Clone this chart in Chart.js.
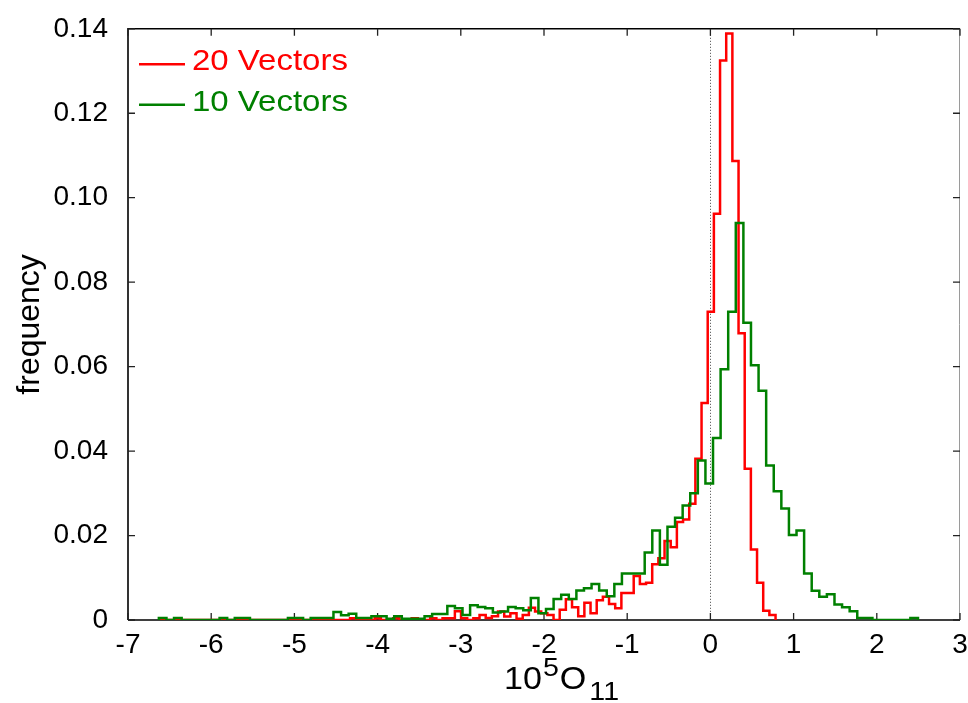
<!DOCTYPE html>
<html>
<head>
<meta charset="utf-8">
<script src="https://cdn.jsdelivr.net/npm/chart.js@4.4.0/dist/chart.umd.min.js"></script>
<style>
html,body{margin:0;padding:0;background:#fff;}
#wrap{position:relative;width:968px;height:703px;}
</style>
</head>
<body>
<div id="wrap"><canvas id="c" width="968" height="703"></canvas></div>
<script>
// ---- data ----
const seriesLabels = ['20 Vectors', '10 Vectors'];
const binStart = -6.629;          // left edge of first bin (both histograms)
const redBinWidth = 0.07412;      // 20 Vectors bin width
const greenBinWidth = 0.09124;    // 10 Vectors bin width
const red20 = [
  0,0,0,0,0,0,0,0,0,0,
  0,0,0,0,0,0,0,0,0,0,
  0,0,0,0,0,0,0,0,0,0,
  0,0.0004,0,0,0,0.0004,0,0,0.0004,0,
  0,0.0004,0,0,0.0004,0,0.0004,0.0004,0.0021,0.0004,
  0,0.0004,0.0012,0.0005,0.0009,0.0020,0.0008,0.0016,0.0003,0.0012,
  0.0029,0.0020,0.0016,0.0012,0,0.0024,0.0049,0.0030,0.0009,0.0041,
  0.0016,0.0047,0.0055,0.0038,0.0028,0.0064,0.0064,0.0104,0.0085,0.0088,
  0.0132,0.0146,0.0187,0.0172,0.0232,0.0238,0.0275,0.0382,0.0514,0.0730,
  0.0962,0.1325,0.1389,0.1087,0.0679,0.0358,0.0167,0.0088,0.0022,0.0012
];
const green10 = [
  0.0005,0,0.0005,0,0,0,0,0,0.0005,0,
  0.0005,0.0005,0,0,0,0,0,0.0005,0.0005,0,
  0.0005,0.0005,0.0005,0.0019,0.0011,0.0015,0.0005,0.0005,0.0009,0.0009,
  0.0003,0.0009,0.0003,0.0003,0.0003,0.0009,0.0014,0.0014,0.0033,0.0028,
  0.0012,0.0035,0.0031,0.0028,0.0018,0.0020,0.0031,0.0028,0.0023,0.0052,
  0.0016,0.0026,0.0050,0.0060,0.0050,0.0070,0.0075,0.0085,0.0070,0.0056,
  0.0085,0.0110,0.0110,0.0110,0.0160,0.0212,0.0131,0.0221,0.0242,0.0271,
  0.0300,0.0378,0.0323,0.0431,0.0594,0.0730,0.0940,0.0704,0.0603,0.0543,
  0.0366,0.0305,0.0264,0.0201,0.0212,0.0110,0.0069,0.0055,0.0061,0.0037,
  0.0030,0.0021,0.0005,0.0005,0,0,0,0,0,0.0005
];
const xTicks = [-7,-6,-5,-4,-3,-2,-1,0,1,2,3];
const yTicks = [0,0.02,0.04,0.06,0.08,0.10,0.12,0.14];
const yTickLabels = ['0','0.02','0.04','0.06','0.08','0.10','0.12','0.14'];

// ---- build step outlines from bin heights ----
function stepOutline(start, width, heights) {
  const pts = [{x: start, y: 0}];
  heights.forEach((h, i) => pts.push({x: start + i * width, y: h}));
  pts.push({x: start + heights.length * width, y: 0});
  return pts;
}

const FONT = "'Liberation Sans', Arial, Helvetica, sans-serif";
const RED = '#ff0000', GREEN = '#008000';
const STRETCH = 1.1;

function wideText(ctx, text, x, y) {
  ctx.save();
  ctx.translate(x, y);
  ctx.scale(STRETCH, 1);
  ctx.fillText(text, 0, 0);
  ctx.restore();
  return ctx.measureText(text).width * STRETCH;
}

const framePlugin = {
  id: 'frame',
  beforeDatasetsDraw(chart) {
    const {ctx, chartArea: a, scales: {x, y}} = chart;
    ctx.save();
    const x0 = Math.round(x.getPixelForValue(0)) + 0.5;
    ctx.strokeStyle = '#444';
    ctx.lineWidth = 1;
    ctx.setLineDash([1, 2]);
    ctx.beginPath(); ctx.moveTo(x0, a.top); ctx.lineTo(x0, a.bottom); ctx.stroke();
    ctx.setLineDash([]);
    ctx.strokeStyle = '#000';
    ctx.lineWidth = 1.6;
    ctx.beginPath();
    ctx.moveTo(a.left, a.bottom); ctx.lineTo(a.left, a.top); ctx.lineTo(a.right, a.top);
    ctx.moveTo(a.left, a.bottom); ctx.lineTo(a.right, a.bottom);
    ctx.stroke();
    ctx.strokeStyle = '#9a9a9a';
    ctx.lineWidth = 1;
    ctx.beginPath(); ctx.moveTo(a.right - 0.5, a.top); ctx.lineTo(a.right - 0.5, a.bottom); ctx.stroke();
    ctx.strokeStyle = '#222';
    ctx.lineWidth = 1.3;
    ctx.beginPath();
    xTicks.forEach(v => {
      const px = x.getPixelForValue(v);
      ctx.moveTo(px, a.bottom); ctx.lineTo(px, a.bottom - 7);
      ctx.moveTo(px, a.top); ctx.lineTo(px, a.top + 7);
    });
    yTicks.forEach(v => {
      const py = y.getPixelForValue(v);
      ctx.moveTo(a.left, py); ctx.lineTo(a.left + 7, py);
      ctx.moveTo(a.right, py); ctx.lineTo(a.right - 7, py);
    });
    ctx.stroke();
    ctx.restore();
  },
  afterDraw(chart) {
    const {ctx, chartArea: a} = chart;
    ctx.save();
    const ds = chart.data.datasets;
    const rows = [{line: 35.5, base: 41.5}, {line: 76, base: 82}];
    ds.forEach((d, i) => {
      const r = rows[i];
      ctx.strokeStyle = d.borderColor;
      ctx.lineWidth = 2.5;
      ctx.beginPath(); ctx.moveTo(a.left + 11, a.top + r.line); ctx.lineTo(a.left + 57, a.top + r.line); ctx.stroke();
      ctx.fillStyle = d.borderColor;
      ctx.font = '30px ' + FONT;
      ctx.textAlign = 'left';
      ctx.textBaseline = 'alphabetic';
      wideText(ctx, d.label, a.left + 64, a.top + r.base);
    });
    // x-axis title 10^5 O_11
    ctx.fillStyle = '#000';
    ctx.textAlign = 'left';
    ctx.textBaseline = 'alphabetic';
    let cx = 504;
    const base = 689;
    ctx.font = '31px ' + FONT;
    cx += wideText(ctx, '10', cx, base) + 1;
    ctx.font = '26px ' + FONT;
    cx += wideText(ctx, '5', cx, base - 13) + 1;
    ctx.font = '31px ' + FONT;
    cx += wideText(ctx, 'O', cx, base) + 3;
    ctx.font = '26px ' + FONT;
    wideText(ctx, '11', cx, base + 11);
    ctx.restore();
  }
};

new Chart(document.getElementById('c'), {
  type: 'line',
  data: {
    datasets: [
      {label: seriesLabels[0], data: stepOutline(binStart, redBinWidth, red20),
       borderColor: RED, borderWidth: 2.5, stepped: 'before', pointRadius: 0, fill: false, order: 1},
      {label: seriesLabels[1], data: stepOutline(binStart, greenBinWidth, green10),
       borderColor: GREEN, borderWidth: 2.5, stepped: 'before', pointRadius: 0, fill: false, order: 0}
    ]
  },
  options: {
    responsive: false,
    animation: false,
    events: [],
    layout: {padding: {top: 27, right: 8, left: 0, bottom: 0}},
    plugins: {legend: {display: false}, tooltip: {enabled: false}},
    scales: {
      x: {
        type: 'linear', min: -7, max: 3,
        afterBuildTicks: s => { s.ticks = xTicks.map(v => ({value: v})); },
        ticks: {font: {family: FONT, size: 28}, color: '#000', padding: 0, maxRotation: 0,
                callback: v => String(v)},
        grid: {display: false}, border: {display: false},
        afterFit: s => { s.height = 83; }
      },
      y: {
        min: 0, max: 0.14,
        afterBuildTicks: s => { s.ticks = yTicks.map(v => ({value: v})); },
        ticks: {font: {family: FONT, size: 28}, color: '#000', padding: 12,
                callback: (v) => yTickLabels[yTicks.findIndex(t => Math.abs(t - v) < 1e-9)]},
        grid: {display: false}, border: {display: false},
        title: {display: true, text: 'frequency', color: '#000', font: {family: FONT, size: 32}, padding: {top: 11, bottom: 0}},
        afterFit: s => { s.width = 128; }
      }
    }
  },
  plugins: [framePlugin]
});
</script>
</body>
</html>
